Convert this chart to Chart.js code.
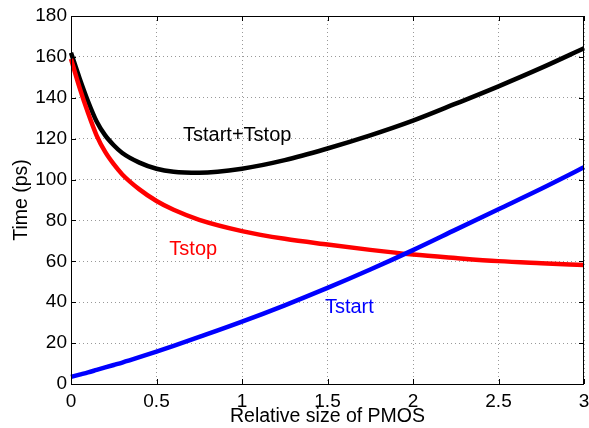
<!DOCTYPE html>
<html>
<head>
<meta charset="utf-8">
<script src="https://cdn.jsdelivr.net/npm/chart.js@4/dist/chart.umd.min.js"></script>
<style>
  html, body { margin: 0; padding: 0; background: #fff; }
  #wrap { width: 589px; height: 428px; }
</style>
</head>
<body>
<div id="wrap"><canvas id="c" width="589" height="428"></canvas></div>
<script>
// relative PMOS size (x samples)
const sizes = [0, 0.05, 0.1, 0.15, 0.2, 0.25, 0.3, 0.4, 0.5, 0.6, 0.75, 1, 1.25, 1.5, 1.75, 2, 2.25, 2.5, 2.75, 3];
// times in ps
const tStart = [3.5, 4.6, 5.7, 6.9, 8.1, 9.3, 10.5, 13.1, 15.8, 18.6, 23, 30.5, 38.5, 47, 56, 65.5, 75.5, 85.5, 95.5, 106];
const tStop = [159, 145, 132.5, 121.5, 113.5, 107.5, 102.5, 95.2, 89.5, 85.2, 80.3, 74.8, 71, 68.2, 65.6, 63.3, 61.6, 60.1, 59.1, 58.2];
const tSum = [162, 149.6, 138.2, 128.4, 121.6, 116.8, 113, 108.3, 105.3, 103.8, 103.3, 105.3, 109.5, 115.2, 121.6, 128.8, 137.1, 145.6, 154.6, 164.2];
const xTicks = [0, 0.5, 1, 1.5, 2, 2.5, 3];
const yTicks = [0, 20, 40, 60, 80, 100, 120, 140, 160, 180];

// curve labels placed in data coords
const labels = [
  { text: 'Tstart+Tstop', x: 0.655, y: 121.8, color: '#000' },
  { text: 'Tstop', x: 0.575, y: 66, color: '#ff0000' },
  { text: 'Tstart', x: 1.485, y: 37.2, color: '#0000ff' }
];

const FONT = '"Liberation Sans", Arial, Helvetica, sans-serif';

function pts(ys) {
  return sizes.map((x, i) => ({ x: x, y: ys[i] }));
}

const boxPlugin = {
  id: 'box',
  afterDraw(chart) {
    const ctx = chart.ctx;
    const a = chart.chartArea;
    const xs = chart.scales.x, ys = chart.scales.y;
    ctx.save();
    // curve labels
    ctx.font = '20px ' + FONT;
    ctx.textBaseline = 'middle';
    ctx.textAlign = 'left';
    labels.forEach(l => {
      ctx.fillStyle = l.color;
      ctx.fillText(l.text, xs.getPixelForValue(l.x), ys.getPixelForValue(l.y));
    });
    // frame
    ctx.strokeStyle = '#000';
    ctx.lineWidth = 1;
    ctx.strokeRect(Math.round(a.left) + 0.5, Math.round(a.top) + 0.5,
      Math.round(a.right - a.left) - 1, Math.round(a.bottom - a.top));
    // inward ticks
    ctx.beginPath();
    xTicks.forEach(v => {
      const px = Math.round(xs.getPixelForValue(v)) + 0.5;
      ctx.moveTo(px, a.bottom); ctx.lineTo(px, a.bottom - 5);
      ctx.moveTo(px, a.top); ctx.lineTo(px, a.top + 5);
    });
    yTicks.forEach(v => {
      const py = Math.round(ys.getPixelForValue(v)) + 0.5;
      ctx.moveTo(a.left, py); ctx.lineTo(a.left + 5, py);
      ctx.moveTo(a.right, py); ctx.lineTo(a.right - 5, py);
    });
    ctx.stroke();
    ctx.restore();
  }
};

const ds = (label, ys, color) => ({
  label: label,
  data: pts(ys),
  borderColor: color,
  borderWidth: 4.5,
  pointRadius: 0,
  fill: false,
  cubicInterpolationMode: 'monotone',
  clip: false
});

new Chart(document.getElementById('c'), {
  type: 'line',
  data: {
    datasets: [
      ds('Tstart', tStart, '#0000ff'),
      ds('Tstop', tStop, '#ff0000'),
      ds('Tstart+Tstop', tSum, '#000000')
    ]
  },
  options: {
    responsive: false,
    animation: false,
    layout: { padding: { top: 16, right: 5, left: 0, bottom: 0 } },
    plugins: { legend: { display: false }, tooltip: { enabled: false } },
    scales: {
      x: {
        type: 'linear',
        min: 0, max: 3,
        afterBuildTicks(s) { s.ticks = xTicks.map(v => ({ value: v })); },
        afterFit(s) { s.height = 44; s.paddingLeft = 0; s.paddingRight = 0; },
        ticks: {
          color: '#000', padding: 6,
          font: { family: FONT, size: 19 },
          maxRotation: 0,
          callback: v => String(v)
        },
        grid: { color: '#999', drawTicks: false, lineWidth: 1 },
        border: { display: false, dash: [1, 3] },
        title: {
          display: true, text: 'Relative size of PMOS', color: '#000',
          font: { family: FONT, size: 19.5 }, padding: { top: 0, bottom: 0 }
        }
      },
      y: {
        min: 0, max: 180,
        afterBuildTicks(s) { s.ticks = yTicks.map(v => ({ value: v })); },
        afterFit(s) { s.width = 71; s.paddingTop = 0; s.paddingBottom = 0; },
        ticks: {
          color: '#000', padding: 4,
          font: { family: FONT, size: 19 }
        },
        grid: { color: '#999', drawTicks: false, lineWidth: 1 },
        border: { display: false, dash: [1, 3] },
        title: {
          display: true, text: 'Time (ps)', color: '#000',
          font: { family: FONT, size: 19.5 }, padding: { top: 10, bottom: 0 }
        }
      }
    }
  },
  plugins: [boxPlugin]
});
</script>
</body>
</html>
